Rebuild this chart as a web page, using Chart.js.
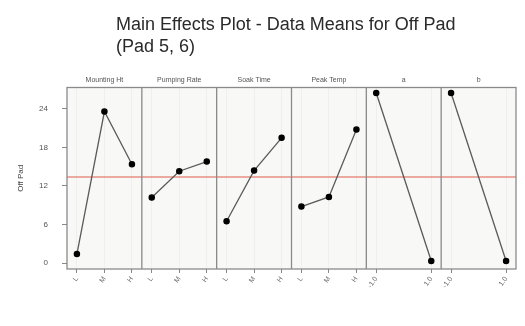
<!DOCTYPE html>
<html>
<head>
<meta charset="utf-8">
<script src="https://cdn.jsdelivr.net/npm/chart.js@4/dist/chart.umd.min.js"></script>
<style>
  html, body { margin: 0; padding: 0; background: #ffffff; }
  #wrap { width: 525px; height: 326px; }
</style>
</head>
<body>
<div id="wrap"><canvas id="c" width="525" height="326"></canvas></div>
<script>
// Factors and their level means for the response "Off Pad"
const factorNames = ['Mounting Ht', 'Pumping Rate', 'Soak Time', 'Peak Temp', 'a', 'b'];
const threeLevelTicks = ['L', 'M', 'H'];
const twoLevelTicks = ['-1.0', '1.0'];

const mountingHt = [1.4, 23.6, 15.4];
const pumpingRate = [10.2, 14.3, 15.8];
const soakTime = [6.5, 14.4, 19.5];
const peakTemp = [8.8, 10.3, 20.8];
const factorA = [26.5, 0.3];
const factorB = [26.5, 0.3];

const grandMean = 13.4;
const yTicks = [0, 6, 12, 18, 24];

const factorMeans = [mountingHt, pumpingRate, soakTime, peakTemp, factorA, factorB];
const factorTicks = [threeLevelTicks, threeLevelTicks, threeLevelTicks, threeLevelTicks, twoLevelTicks, twoLevelTicks];

const FONT = "'Liberation Sans', Arial, sans-serif";

const datasets = factorMeans.map((means, i) => ({
  label: factorNames[i],
  xAxisID: 'x' + i,
  data: means.map((v, k) => ({ x: k, y: v })),
  borderColor: '#5a5a5a',
  borderWidth: 1.3,
  pointBackgroundColor: '#000000',
  pointBorderColor: '#000000',
  pointRadius: 2.6,
  pointHoverRadius: 2.6,
  tension: 0,
  fill: false
}));

const scales = {};
factorMeans.forEach((means, i) => {
  const n = means.length;
  const pad = n === 3 ? 0.36 : 0.18;
  const labels = factorTicks[i];
  scales['x' + i] = {
    type: 'linear',
    position: 'bottom',
    stack: 'panels',
    stackWeight: 1,
    min: -pad,
    max: n - 1 + pad,
    afterBuildTicks: s => { s.ticks = labels.map((_, k) => ({ value: k })); },
    afterFit: s => { s.height = 57; },
    ticks: {
      autoSkip: false,
      minRotation: 55,
      maxRotation: 55,
      padding: 2,
      color: '#666666',
      font: { family: FONT, size: 7 },
      callback: (v, idx) => labels[idx]
    },
    grid: { color: '#efefef', lineWidth: 1, tickLength: 4, tickColor: '#888888' },
    border: { display: false }
  };
});

scales.y = {
  position: 'left',
  min: -0.935,
  max: 27.35,
  afterBuildTicks: s => { s.ticks = yTicks.map(v => ({ value: v })); },
  afterFit: s => { s.width = 67; },
  ticks: {
    padding: 14,
    color: '#555555',
    font: { family: FONT, size: 8 }
  },
  grid: { drawOnChartArea: false, tickLength: 5, tickColor: '#888888' },
  border: { display: false },
  title: {
    display: true,
    text: 'Off Pad',
    color: '#444444',
    font: { family: FONT, size: 8 },
    padding: { top: 16, bottom: 0 }
  }
};

// Panel backgrounds, mean reference line, panel frames, strip labels and title
const panelPlugin = {
  id: 'panels',
  beforeDraw(chart) {
    const { ctx, chartArea: a } = chart;
    ctx.save();
    ctx.fillStyle = '#f8f8f7';
    ctx.fillRect(a.left, a.top, a.right - a.left, a.bottom - a.top);
    ctx.restore();
  },
  beforeDatasetsDraw(chart) {
    const { ctx, chartArea: a } = chart;
    const y = chart.scales.y.getPixelForValue(grandMean);
    ctx.save();
    ctx.strokeStyle = '#e05a48';
    ctx.lineWidth = 1;
    ctx.beginPath();
    ctx.moveTo(a.left, y);
    ctx.lineTo(a.right, y);
    ctx.stroke();
    ctx.restore();
  },
  afterDatasetsDraw(chart) {
    const { ctx, chartArea: a } = chart;
    ctx.save();
    ctx.strokeStyle = '#8a8a8a';
    ctx.lineWidth = 1.3;
    ctx.strokeRect(a.left, a.top, a.right - a.left, a.bottom - a.top);
    for (let i = 1; i < factorNames.length; i++) {
      const x = chart.scales['x' + i].left;
      ctx.beginPath();
      ctx.moveTo(x, a.top);
      ctx.lineTo(x, a.bottom);
      ctx.stroke();
    }
    ctx.restore();
  },
  afterDraw(chart) {
    const { ctx, chartArea: a } = chart;
    ctx.save();
    ctx.fillStyle = '#555555';
    ctx.font = '7px ' + FONT;
    ctx.textAlign = 'center';
    ctx.textBaseline = 'alphabetic';
    factorNames.forEach((name, i) => {
      const s = chart.scales['x' + i];
      ctx.fillText(name, (s.left + s.right) / 2, a.top - 6);
    });
    ctx.fillStyle = '#2a2a2a';
    ctx.font = '18px ' + FONT;
    ctx.textAlign = 'left';
    ctx.fillText('Main Effects Plot - Data Means for Off Pad', 116, 30);
    ctx.fillText('(Pad 5, 6)', 116, 52);
    ctx.restore();
  }
};

new Chart(document.getElementById('c'), {
  type: 'line',
  data: { datasets },
  options: {
    responsive: false,
    devicePixelRatio: 1,
    animation: false,
    layout: { padding: { top: 87.5, right: 9, left: 0, bottom: 0 } },
    plugins: {
      legend: { display: false },
      title: { display: false },
      tooltip: { enabled: false }
    },
    scales
  },
  plugins: [panelPlugin]
});
</script>
</body>
</html>
